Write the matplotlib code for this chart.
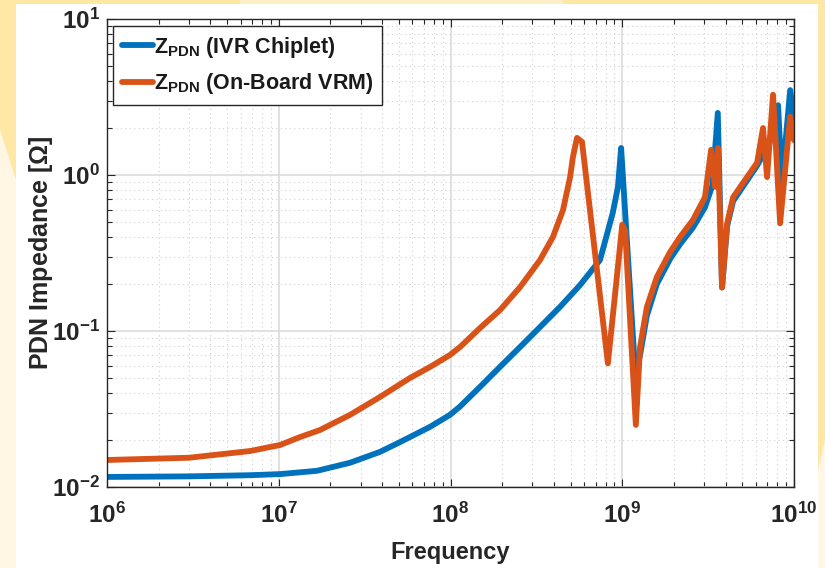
import matplotlib
matplotlib.use('Agg')
import matplotlib.pyplot as plt
from matplotlib.patches import Polygon, Rectangle
from matplotlib.ticker import FixedLocator, FixedFormatter, LogLocator, NullFormatter

plt.rcParams['font.family'] = ['Liberation Sans', 'DejaVu Sans']
plt.rcParams['font.weight'] = 'bold'
plt.rcParams['mathtext.fontset'] = 'custom'
plt.rcParams['mathtext.rm'] = 'Liberation Sans:bold'
plt.rcParams['mathtext.bf'] = 'Liberation Sans:bold'
plt.rcParams['mathtext.it'] = 'Liberation Sans:bold'

# frequency [Hz] and |Z| [Ohm]
f_ivr = [1e6, 3e6, 6.8e6, 1.02e7, 1.67e7, 2.6e7, 3.89e7, 5.08e7, 7.6e7, 9.93e7,
         1.136e8, 1.485e8, 1.94e8, 2.54e8, 3.32e8, 4.35e8, 5.68e8, 7.42e8,
         8.8e8, 9.44e8, 9.85e8, 1.19e9, 1.27e9, 1.39e9, 1.59e9, 1.9e9, 2.17e9,
         2.58e9, 3.03e9, 3.35e9, 3.6e9, 3.81e9, 4.08e9, 4.42e9, 6.1e9, 7.2e9,
         8.08e9, 8.5e9, 9.5e9, 1e10]
z_ivr = [0.0116, 0.0117, 0.0119, 0.0121, 0.0127, 0.0143, 0.0168, 0.0194, 0.0243,
         0.0290, 0.0328, 0.0438, 0.0588, 0.0789, 0.106, 0.143, 0.197, 0.285,
         0.57, 0.84, 1.49, 0.054, 0.07, 0.125, 0.2, 0.29, 0.36, 0.46, 0.62, 0.86,
         2.5, 0.19, 0.47, 0.68, 1.15, 1.6, 2.8, 0.9, 3.5, 2.3]

f_vrm = [1e6, 3e6, 6.8e6, 1.02e7, 1.33e7, 1.74e7, 2.6e7, 3.89e7, 5.81e7, 7.6e7,
         9.93e7, 1.136e8, 1.485e8, 1.94e8, 2.54e8, 3.32e8, 3.95e8, 4.52e8,
         4.97e8, 5.16e8, 5.45e8, 5.83e8, 8.25e8, 1.0e9, 1.04e9, 1.2e9, 1.27e9,
         1.39e9, 1.59e9, 1.9e9, 2.17e9, 2.58e9, 3.03e9, 3.29e9, 3.47e9, 3.61e9,
         3.81e9, 4.08e9, 4.42e9, 6.1e9, 6.6e9, 6.97e9, 7.55e9, 8.3e9, 9.5e9, 1e10]
z_vrm = [0.0149, 0.0154, 0.0170, 0.0186, 0.0209, 0.0232, 0.0290, 0.0378, 0.0500,
         0.0588, 0.0702, 0.0789, 0.1045, 0.136, 0.191, 0.285, 0.401, 0.597,
         0.97, 1.30, 1.73, 1.63, 0.062, 0.48, 0.44, 0.025, 0.079, 0.142, 0.222,
         0.321, 0.40, 0.515, 0.72, 1.45, 0.84, 1.49, 0.19, 0.49, 0.72, 1.2, 2.0,
         0.97, 3.27, 0.49, 2.36, 1.67]

labels = [r'$\mathbf{Z}_{\mathbf{PDN}}$ (IVR Chiplet)',
          r'$\mathbf{Z}_{\mathbf{PDN}}$ (On-Board VRM)']
colors = ['#0072BD', '#D95319']

x_ticks = [1e6, 1e7, 1e8, 1e9, 1e10]
x_ticklabels = [r'$\mathbf{10^{6}}$', r'$\mathbf{10^{7}}$', r'$\mathbf{10^{8}}$',
                r'$\mathbf{10^{9}}$', r'$\mathbf{10^{10}}$']
y_ticks = [1e-2, 1e-1, 1e0, 1e1]
y_ticklabels = [r'$\mathbf{10^{-2}}$', r'$\mathbf{10^{-1}}$', r'$\mathbf{10^{0}}$',
                r'$\mathbf{10^{1}}$']

W, H = 825, 568
fig = plt.figure(figsize=(W / 100, H / 100), dpi=100, facecolor='#FFF6E4')

# slide-like background
bg = fig.add_axes([0, 0, 1, 1], zorder=-5)
bg.set_xlim(0, W)
bg.set_ylim(H, 0)
bg.axis('off')
yel = '#FFE7A6'
bg.add_patch(Polygon([(0, 0), (W, 0), (W, 440), (818, 470), (818, 4), (16, 4),
                      (16, 180), (0, 130)], closed=True, color=yel, lw=0))
bg.add_patch(Polygon([(240, 0), (563, 0), (563, 4), (240, 4)], closed=True,
                     color='#FFEFC6', lw=0))
bg.add_patch(Rectangle((16, 4), 802, H - 4, color='white', lw=0))

ax = fig.add_axes([107 / W, 1 - 487 / H, 687 / W, 468 / H])
ax.set_xscale('log')
ax.set_yscale('log')

ax.plot(f_ivr, z_ivr, color=colors[0], lw=4.2, label=labels[0],
        solid_joinstyle='round', solid_capstyle='round')
ax.plot(f_vrm, z_vrm, color=colors[1], lw=4.2, label=labels[1],
        solid_joinstyle='round', solid_capstyle='round')

ax.set_xlim(1e6, 1e10)
ax.set_ylim(1e-2, 1e1)

ax.xaxis.set_major_locator(FixedLocator(x_ticks))
ax.xaxis.set_major_formatter(FixedFormatter(x_ticklabels))
ax.yaxis.set_major_locator(FixedLocator(y_ticks))
ax.yaxis.set_major_formatter(FixedFormatter(y_ticklabels))
ax.xaxis.set_minor_locator(LogLocator(base=10, subs=range(2, 10), numticks=20))
ax.yaxis.set_minor_locator(LogLocator(base=10, subs=range(2, 10), numticks=20))
ax.xaxis.set_minor_formatter(NullFormatter())
ax.yaxis.set_minor_formatter(NullFormatter())

ax.tick_params(which='both', direction='in', top=True, right=True,
               colors='#262626', labelcolor='#262626', labelsize=17.5)
ax.tick_params(which='major', length=6, width=0.8)
ax.tick_params(which='minor', length=3.5, width=0.8)
ax.tick_params(axis='x', which='major', pad=11)
ax.tick_params(axis='y', which='major', pad=5)
for s in ax.spines.values():
    s.set_color('#262626')
    s.set_linewidth(1.0)

ax.grid(True, which='major', color='#DCDCDC', lw=1.2, ls='-')
ax.grid(True, which='minor', color='#D0D0D0', lw=0.8, ls=(0, (1, 3)))
ax.set_axisbelow(True)

ax.set_xlabel('Frequency', fontsize=17, fontweight='bold', color='#262626',
              labelpad=10)
ax.set_ylabel(r'PDN Impedance [$\Omega$]', fontsize=18, fontweight='bold',
              color='#262626', labelpad=-2)

leg = ax.legend(loc='upper left', bbox_to_anchor=(0.009, 0.985), borderaxespad=0,
                fontsize=15.5, frameon=True, fancybox=False, edgecolor='#262626',
                framealpha=1, handlelength=1.45, handletextpad=0.05,
                labelspacing=0.55, borderpad=0.4)
leg.get_frame().set_linewidth(1.0)
for t in leg.get_texts():
    t.set_color('#1a1a1a')

fig.savefig('out.png', dpi=100, facecolor=fig.get_facecolor())
